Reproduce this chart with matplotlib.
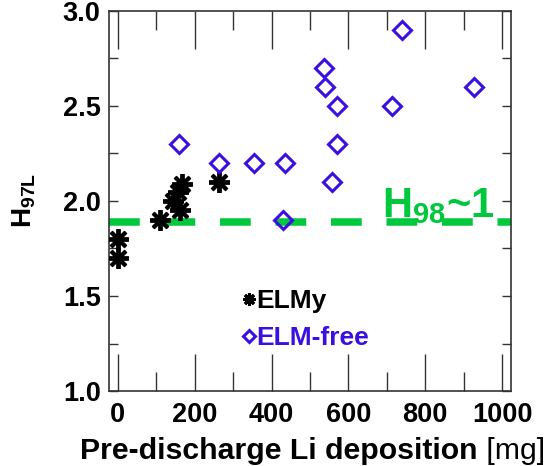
import matplotlib
matplotlib.use("Agg")
import matplotlib.pyplot as plt
from matplotlib.ticker import MultipleLocator, FuncFormatter

plt.rcParams['font.family'] = ['Liberation Sans', 'DejaVu Sans']
plt.rcParams['mathtext.fontset'] = 'custom'
plt.rcParams['mathtext.rm'] = 'Liberation Sans:bold'
plt.rcParams['mathtext.bf'] = 'Liberation Sans:bold'
plt.rcParams['mathtext.it'] = 'Liberation Sans:bold'
plt.rcParams['mathtext.default'] = 'bf'

# ELMy discharges
elmy_li = [0, 0, 110, 143, 156, 161, 167, 263]
elmy_h = [1.80, 1.70, 1.90, 2.00, 2.05, 1.95, 2.09, 2.10]

# ELM-free discharges
free_li = [159, 263, 354, 435, 430, 536, 539, 569, 569, 557, 713, 740, 927]
free_h = [2.30, 2.20, 2.20, 2.20, 1.90, 2.70, 2.60, 2.50, 2.30, 2.10, 2.50, 2.90, 2.60]

h98_ref = 1.89

black = '#000000'
blue = '#3A0FE0'
green = '#00C83C'

fig = plt.figure(figsize=(5.48, 4.66), dpi=100)
ax = fig.add_axes([109 / 548, 1 - 391 / 466, (511 - 109) / 548, (391 - 11) / 466])

ax.axhline(h98_ref, color=green, lw=5.4, dashes=(4.1, 3.3), solid_capstyle='butt',
           dash_capstyle='butt', zorder=1)

l1, = ax.plot(elmy_li, elmy_h, ls='none', marker=(8, 2, 0), ms=15, mew=2.8,
              color=black, zorder=3, label='ELMy')
l2, = ax.plot(free_li, free_h, ls='none', marker='D', ms=9.5, mew=2.2,
              mfc='none', mec=blue, zorder=3, label='ELM-free')

ax.text(687, 1.916, r'H$_{98}$~1', color=green, fontsize=30, fontweight='bold',
        ha='left', va='baseline', zorder=2)

ax.set_xlim(-23, 1023)
ax.set_ylim(1.0, 3.0)

ax.xaxis.set_major_locator(MultipleLocator(200))
ax.xaxis.set_minor_locator(MultipleLocator(100))
ax.yaxis.set_major_locator(MultipleLocator(0.25))
ax.yaxis.set_major_formatter(FuncFormatter(
    lambda v, p: f'{v:.1f}' if abs(v * 2 - round(v * 2)) < 1e-6 else ''))

ax.tick_params(axis='x', which='major', direction='in', length=27, width=1.0,
               top=True, bottom=True, labelsize=19.5, pad=8, color='#333333')
ax.tick_params(axis='x', which='minor', direction='in', length=13.5, width=1.0,
               top=True, bottom=True, color='#333333')
ax.tick_params(axis='y', which='major', direction='in', length=6.5, width=1.0,
               left=True, right=True, labelsize=19.5, pad=6, color='#333333')
for lab in ax.get_xticklabels() + ax.get_yticklabels():
    lab.set_fontweight('bold')

for s in ax.spines.values():
    s.set_linewidth(1.2)
    s.set_color('#333333')

ax.set_ylabel(r'H$_{\mathregular{97L}}$', fontsize=20, fontweight='bold', labelpad=18)

xl = fig.text(80 / 548, 1 - 459 / 466, 'Pre-discharge Li deposition', fontsize=21.8,
              fontweight='bold', ha='left', va='baseline')
ax.annotate(' [mg]', xy=(1, 0), xycoords=xl, fontsize=21.8, fontweight='normal',
            ha='left', va='bottom')

leg = ax.legend(handles=[l1, l2], loc='center left', bbox_to_anchor=(0.331, 0.188),
                frameon=False, handlelength=0.5, handletextpad=0.05,
                labelspacing=0.5, markerscale=0.6, borderaxespad=0, borderpad=0,
                labelcolor=[black, blue], prop={'weight': 'bold', 'size': 19})
leg.legend_handles[0].set_markeredgewidth(2.2)
leg.legend_handles[1].set_markeredgewidth(2.2)

fig.savefig('out.png', dpi=100)
